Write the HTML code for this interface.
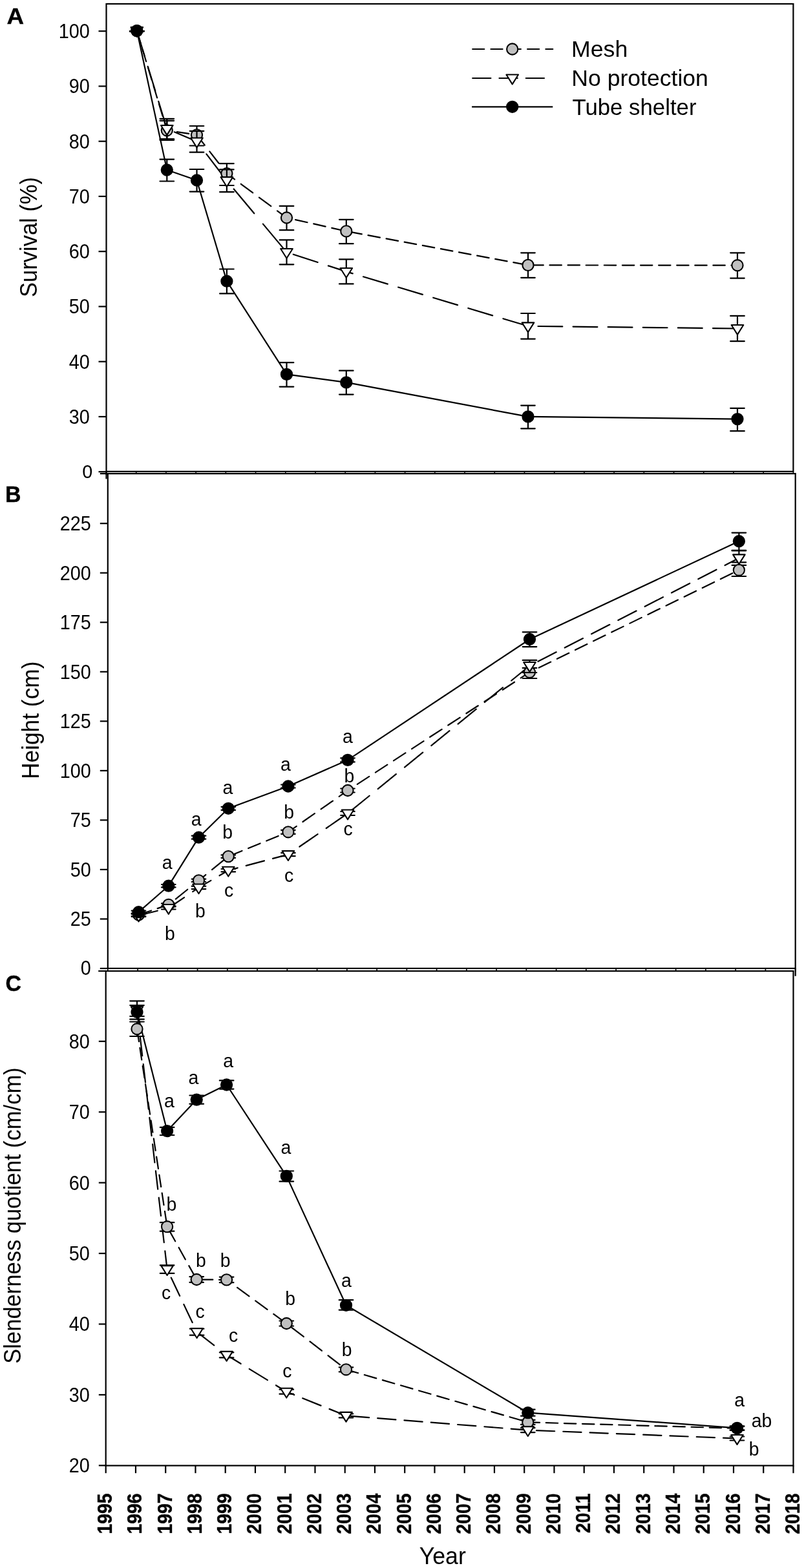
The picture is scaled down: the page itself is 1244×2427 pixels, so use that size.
<!DOCTYPE html>
<html><head><meta charset="utf-8"><title>Figure</title>
<style>html,body{margin:0;padding:0;background:#fff}svg{display:block}</style></head>
<body>
<svg width="1244" height="2427" viewBox="0 0 1244 2427">
<rect width="1244" height="2427" fill="#fff"/>
<line x1="164.50" y1="729.80" x2="164.50" y2="741.30" stroke="#000" stroke-width="2.2" />
<rect x="164.5" y="6.0" width="1062.90" height="723.80" fill="#fff" stroke="#000" stroke-width="2.2"/>
<line x1="164.50" y1="729.80" x2="164.50" y2="734.80" stroke="#000" stroke-width="1.6" />
<line x1="210.71" y1="729.80" x2="210.71" y2="734.80" stroke="#000" stroke-width="1.6" />
<line x1="256.93" y1="729.80" x2="256.93" y2="734.80" stroke="#000" stroke-width="1.6" />
<line x1="303.14" y1="729.80" x2="303.14" y2="734.80" stroke="#000" stroke-width="1.6" />
<line x1="349.35" y1="729.80" x2="349.35" y2="734.80" stroke="#000" stroke-width="1.6" />
<line x1="395.57" y1="729.80" x2="395.57" y2="734.80" stroke="#000" stroke-width="1.6" />
<line x1="441.78" y1="729.80" x2="441.78" y2="734.80" stroke="#000" stroke-width="1.6" />
<line x1="487.99" y1="729.80" x2="487.99" y2="734.80" stroke="#000" stroke-width="1.6" />
<line x1="534.20" y1="729.80" x2="534.20" y2="734.80" stroke="#000" stroke-width="1.6" />
<line x1="580.42" y1="729.80" x2="580.42" y2="734.80" stroke="#000" stroke-width="1.6" />
<line x1="626.63" y1="729.80" x2="626.63" y2="734.80" stroke="#000" stroke-width="1.6" />
<line x1="672.84" y1="729.80" x2="672.84" y2="734.80" stroke="#000" stroke-width="1.6" />
<line x1="719.06" y1="729.80" x2="719.06" y2="734.80" stroke="#000" stroke-width="1.6" />
<line x1="765.27" y1="729.80" x2="765.27" y2="734.80" stroke="#000" stroke-width="1.6" />
<line x1="811.48" y1="729.80" x2="811.48" y2="734.80" stroke="#000" stroke-width="1.6" />
<line x1="857.70" y1="729.80" x2="857.70" y2="734.80" stroke="#000" stroke-width="1.6" />
<line x1="903.91" y1="729.80" x2="903.91" y2="734.80" stroke="#000" stroke-width="1.6" />
<line x1="950.12" y1="729.80" x2="950.12" y2="734.80" stroke="#000" stroke-width="1.6" />
<line x1="996.33" y1="729.80" x2="996.33" y2="734.80" stroke="#000" stroke-width="1.6" />
<line x1="1042.55" y1="729.80" x2="1042.55" y2="734.80" stroke="#000" stroke-width="1.6" />
<line x1="1088.76" y1="729.80" x2="1088.76" y2="734.80" stroke="#000" stroke-width="1.6" />
<line x1="1134.97" y1="729.80" x2="1134.97" y2="734.80" stroke="#000" stroke-width="1.6" />
<line x1="1181.19" y1="729.80" x2="1181.19" y2="734.80" stroke="#000" stroke-width="1.6" />
<line x1="1227.40" y1="729.80" x2="1227.40" y2="734.80" stroke="#000" stroke-width="1.6" />
<rect x="166.8" y="733.1" width="1063.90" height="765.80" fill="#fff" stroke="#000" stroke-width="2.2"/>
<line x1="1230.70" y1="1498.90" x2="1230.70" y2="1510.80" stroke="#000" stroke-width="2.2" />
<line x1="166.80" y1="1498.90" x2="166.80" y2="1503.90" stroke="#000" stroke-width="1.6" />
<line x1="213.06" y1="1498.90" x2="213.06" y2="1503.90" stroke="#000" stroke-width="1.6" />
<line x1="259.31" y1="1498.90" x2="259.31" y2="1503.90" stroke="#000" stroke-width="1.6" />
<line x1="305.57" y1="1498.90" x2="305.57" y2="1503.90" stroke="#000" stroke-width="1.6" />
<line x1="351.83" y1="1498.90" x2="351.83" y2="1503.90" stroke="#000" stroke-width="1.6" />
<line x1="398.08" y1="1498.90" x2="398.08" y2="1503.90" stroke="#000" stroke-width="1.6" />
<line x1="444.34" y1="1498.90" x2="444.34" y2="1503.90" stroke="#000" stroke-width="1.6" />
<line x1="490.60" y1="1498.90" x2="490.60" y2="1503.90" stroke="#000" stroke-width="1.6" />
<line x1="536.85" y1="1498.90" x2="536.85" y2="1503.90" stroke="#000" stroke-width="1.6" />
<line x1="583.11" y1="1498.90" x2="583.11" y2="1503.90" stroke="#000" stroke-width="1.6" />
<line x1="629.37" y1="1498.90" x2="629.37" y2="1503.90" stroke="#000" stroke-width="1.6" />
<line x1="675.62" y1="1498.90" x2="675.62" y2="1503.90" stroke="#000" stroke-width="1.6" />
<line x1="721.88" y1="1498.90" x2="721.88" y2="1503.90" stroke="#000" stroke-width="1.6" />
<line x1="768.13" y1="1498.90" x2="768.13" y2="1503.90" stroke="#000" stroke-width="1.6" />
<line x1="814.39" y1="1498.90" x2="814.39" y2="1503.90" stroke="#000" stroke-width="1.6" />
<line x1="860.65" y1="1498.90" x2="860.65" y2="1503.90" stroke="#000" stroke-width="1.6" />
<line x1="906.90" y1="1498.90" x2="906.90" y2="1503.90" stroke="#000" stroke-width="1.6" />
<line x1="953.16" y1="1498.90" x2="953.16" y2="1503.90" stroke="#000" stroke-width="1.6" />
<line x1="999.42" y1="1498.90" x2="999.42" y2="1503.90" stroke="#000" stroke-width="1.6" />
<line x1="1045.67" y1="1498.90" x2="1045.67" y2="1503.90" stroke="#000" stroke-width="1.6" />
<line x1="1091.93" y1="1498.90" x2="1091.93" y2="1503.90" stroke="#000" stroke-width="1.6" />
<line x1="1138.19" y1="1498.90" x2="1138.19" y2="1503.90" stroke="#000" stroke-width="1.6" />
<line x1="1184.44" y1="1498.90" x2="1184.44" y2="1503.90" stroke="#000" stroke-width="1.6" />
<line x1="1230.70" y1="1498.90" x2="1230.70" y2="1503.90" stroke="#000" stroke-width="1.6" />
<rect x="163.7" y="1503.0" width="1063.80" height="765.50" fill="#fff" stroke="#000" stroke-width="2.2"/>
<line x1="154.80" y1="733.10" x2="166.80" y2="733.10" stroke="#000" stroke-width="2.2" />
<line x1="152.20" y1="1503.00" x2="163.70" y2="1503.00" stroke="#000" stroke-width="2.2" />
<line x1="152.50" y1="48.20" x2="164.50" y2="48.20" stroke="#000" stroke-width="2.2" />
<text transform="translate(138.80 59.10) scale(0.915 1)" font-size="31.5" text-anchor="end" font-weight="normal" font-family="Liberation Sans, Arial, Helvetica, sans-serif" fill="#000"  >100</text>
<line x1="152.50" y1="133.45" x2="164.50" y2="133.45" stroke="#000" stroke-width="2.2" />
<text transform="translate(138.80 144.35) scale(0.915 1)" font-size="31.5" text-anchor="end" font-weight="normal" font-family="Liberation Sans, Arial, Helvetica, sans-serif" fill="#000"  >90</text>
<line x1="152.50" y1="218.70" x2="164.50" y2="218.70" stroke="#000" stroke-width="2.2" />
<text transform="translate(138.80 229.60) scale(0.915 1)" font-size="31.5" text-anchor="end" font-weight="normal" font-family="Liberation Sans, Arial, Helvetica, sans-serif" fill="#000"  >80</text>
<line x1="152.50" y1="303.95" x2="164.50" y2="303.95" stroke="#000" stroke-width="2.2" />
<text transform="translate(138.80 314.85) scale(0.915 1)" font-size="31.5" text-anchor="end" font-weight="normal" font-family="Liberation Sans, Arial, Helvetica, sans-serif" fill="#000"  >70</text>
<line x1="152.50" y1="389.20" x2="164.50" y2="389.20" stroke="#000" stroke-width="2.2" />
<text transform="translate(138.80 400.10) scale(0.915 1)" font-size="31.5" text-anchor="end" font-weight="normal" font-family="Liberation Sans, Arial, Helvetica, sans-serif" fill="#000"  >60</text>
<line x1="152.50" y1="474.45" x2="164.50" y2="474.45" stroke="#000" stroke-width="2.2" />
<text transform="translate(138.80 485.35) scale(0.915 1)" font-size="31.5" text-anchor="end" font-weight="normal" font-family="Liberation Sans, Arial, Helvetica, sans-serif" fill="#000"  >50</text>
<line x1="152.50" y1="559.70" x2="164.50" y2="559.70" stroke="#000" stroke-width="2.2" />
<text transform="translate(138.80 570.60) scale(0.915 1)" font-size="31.5" text-anchor="end" font-weight="normal" font-family="Liberation Sans, Arial, Helvetica, sans-serif" fill="#000"  >40</text>
<line x1="152.50" y1="644.95" x2="164.50" y2="644.95" stroke="#000" stroke-width="2.2" />
<text transform="translate(138.80 655.85) scale(0.915 1)" font-size="31.5" text-anchor="end" font-weight="normal" font-family="Liberation Sans, Arial, Helvetica, sans-serif" fill="#000"  >30</text>
<line x1="152.50" y1="730.20" x2="164.50" y2="730.20" stroke="#000" stroke-width="2.2" />
<text transform="translate(143.20 739.70) scale(0.9512376237623763 1)" font-size="30.3" text-anchor="end" font-weight="normal" font-family="Liberation Sans, Arial, Helvetica, sans-serif" fill="#000"  >0</text>
<line x1="154.80" y1="810.20" x2="166.80" y2="810.20" stroke="#000" stroke-width="2.2" />
<text transform="translate(140.80 821.10) scale(0.915 1)" font-size="31.5" text-anchor="end" font-weight="normal" font-family="Liberation Sans, Arial, Helvetica, sans-serif" fill="#000"  >225</text>
<line x1="154.80" y1="886.73" x2="166.80" y2="886.73" stroke="#000" stroke-width="2.2" />
<text transform="translate(140.80 897.63) scale(0.915 1)" font-size="31.5" text-anchor="end" font-weight="normal" font-family="Liberation Sans, Arial, Helvetica, sans-serif" fill="#000"  >200</text>
<line x1="154.80" y1="963.26" x2="166.80" y2="963.26" stroke="#000" stroke-width="2.2" />
<text transform="translate(140.80 974.16) scale(0.915 1)" font-size="31.5" text-anchor="end" font-weight="normal" font-family="Liberation Sans, Arial, Helvetica, sans-serif" fill="#000"  >175</text>
<line x1="154.80" y1="1039.79" x2="166.80" y2="1039.79" stroke="#000" stroke-width="2.2" />
<text transform="translate(140.80 1050.69) scale(0.915 1)" font-size="31.5" text-anchor="end" font-weight="normal" font-family="Liberation Sans, Arial, Helvetica, sans-serif" fill="#000"  >150</text>
<line x1="154.80" y1="1116.32" x2="166.80" y2="1116.32" stroke="#000" stroke-width="2.2" />
<text transform="translate(140.80 1127.22) scale(0.915 1)" font-size="31.5" text-anchor="end" font-weight="normal" font-family="Liberation Sans, Arial, Helvetica, sans-serif" fill="#000"  >125</text>
<line x1="154.80" y1="1192.85" x2="166.80" y2="1192.85" stroke="#000" stroke-width="2.2" />
<text transform="translate(140.80 1203.75) scale(0.915 1)" font-size="31.5" text-anchor="end" font-weight="normal" font-family="Liberation Sans, Arial, Helvetica, sans-serif" fill="#000"  >100</text>
<line x1="154.80" y1="1269.38" x2="166.80" y2="1269.38" stroke="#000" stroke-width="2.2" />
<text transform="translate(140.80 1280.28) scale(0.915 1)" font-size="31.5" text-anchor="end" font-weight="normal" font-family="Liberation Sans, Arial, Helvetica, sans-serif" fill="#000"  >75</text>
<line x1="154.80" y1="1345.91" x2="166.80" y2="1345.91" stroke="#000" stroke-width="2.2" />
<text transform="translate(140.80 1356.81) scale(0.915 1)" font-size="31.5" text-anchor="end" font-weight="normal" font-family="Liberation Sans, Arial, Helvetica, sans-serif" fill="#000"  >50</text>
<line x1="154.80" y1="1422.44" x2="166.80" y2="1422.44" stroke="#000" stroke-width="2.2" />
<text transform="translate(140.80 1433.34) scale(0.915 1)" font-size="31.5" text-anchor="end" font-weight="normal" font-family="Liberation Sans, Arial, Helvetica, sans-serif" fill="#000"  >25</text>
<line x1="154.80" y1="1498.97" x2="166.80" y2="1498.97" stroke="#000" stroke-width="2.2" />
<text transform="translate(140.80 1508.67) scale(0.915 1)" font-size="31.5" text-anchor="end" font-weight="normal" font-family="Liberation Sans, Arial, Helvetica, sans-serif" fill="#000"  >0</text>
<line x1="152.80" y1="1611.80" x2="163.70" y2="1611.80" stroke="#000" stroke-width="2.2" />
<text transform="translate(138.80 1622.70) scale(0.915 1)" font-size="31.5" text-anchor="end" font-weight="normal" font-family="Liberation Sans, Arial, Helvetica, sans-serif" fill="#000"  >80</text>
<line x1="152.80" y1="1721.22" x2="163.70" y2="1721.22" stroke="#000" stroke-width="2.2" />
<text transform="translate(138.80 1732.12) scale(0.915 1)" font-size="31.5" text-anchor="end" font-weight="normal" font-family="Liberation Sans, Arial, Helvetica, sans-serif" fill="#000"  >70</text>
<line x1="152.80" y1="1830.64" x2="163.70" y2="1830.64" stroke="#000" stroke-width="2.2" />
<text transform="translate(138.80 1841.54) scale(0.915 1)" font-size="31.5" text-anchor="end" font-weight="normal" font-family="Liberation Sans, Arial, Helvetica, sans-serif" fill="#000"  >60</text>
<line x1="152.80" y1="1940.06" x2="163.70" y2="1940.06" stroke="#000" stroke-width="2.2" />
<text transform="translate(138.80 1950.96) scale(0.915 1)" font-size="31.5" text-anchor="end" font-weight="normal" font-family="Liberation Sans, Arial, Helvetica, sans-serif" fill="#000"  >50</text>
<line x1="152.80" y1="2049.48" x2="163.70" y2="2049.48" stroke="#000" stroke-width="2.2" />
<text transform="translate(138.80 2060.38) scale(0.915 1)" font-size="31.5" text-anchor="end" font-weight="normal" font-family="Liberation Sans, Arial, Helvetica, sans-serif" fill="#000"  >40</text>
<line x1="152.80" y1="2158.90" x2="163.70" y2="2158.90" stroke="#000" stroke-width="2.2" />
<text transform="translate(138.80 2169.80) scale(0.915 1)" font-size="31.5" text-anchor="end" font-weight="normal" font-family="Liberation Sans, Arial, Helvetica, sans-serif" fill="#000"  >30</text>
<line x1="152.80" y1="2268.32" x2="163.70" y2="2268.32" stroke="#000" stroke-width="2.2" />
<text transform="translate(138.80 2279.22) scale(0.915 1)" font-size="31.5" text-anchor="end" font-weight="normal" font-family="Liberation Sans, Arial, Helvetica, sans-serif" fill="#000"  >20</text>
<line x1="163.70" y1="2268.50" x2="163.70" y2="2280.20" stroke="#000" stroke-width="2.2" />
<text transform="translate(173.20 2311.50) rotate(-90) scale(0.93 1)" font-size="30.5" text-anchor="end" font-weight="bold" font-family="Liberation Sans, Arial, Helvetica, sans-serif" fill="#000" stroke="#000" stroke-width="0.4" >1995</text>
<line x1="209.95" y1="2268.50" x2="209.95" y2="2280.20" stroke="#000" stroke-width="2.2" />
<text transform="translate(219.45 2311.50) rotate(-90) scale(0.93 1)" font-size="30.5" text-anchor="end" font-weight="bold" font-family="Liberation Sans, Arial, Helvetica, sans-serif" fill="#000" stroke="#000" stroke-width="0.4" >1996</text>
<line x1="256.20" y1="2268.50" x2="256.20" y2="2280.20" stroke="#000" stroke-width="2.2" />
<text transform="translate(265.70 2311.50) rotate(-90) scale(0.93 1)" font-size="30.5" text-anchor="end" font-weight="bold" font-family="Liberation Sans, Arial, Helvetica, sans-serif" fill="#000" stroke="#000" stroke-width="0.4" >1997</text>
<line x1="302.46" y1="2268.50" x2="302.46" y2="2280.20" stroke="#000" stroke-width="2.2" />
<text transform="translate(311.96 2311.50) rotate(-90) scale(0.93 1)" font-size="30.5" text-anchor="end" font-weight="bold" font-family="Liberation Sans, Arial, Helvetica, sans-serif" fill="#000" stroke="#000" stroke-width="0.4" >1998</text>
<line x1="348.71" y1="2268.50" x2="348.71" y2="2280.20" stroke="#000" stroke-width="2.2" />
<text transform="translate(358.21 2311.50) rotate(-90) scale(0.93 1)" font-size="30.5" text-anchor="end" font-weight="bold" font-family="Liberation Sans, Arial, Helvetica, sans-serif" fill="#000" stroke="#000" stroke-width="0.4" >1999</text>
<line x1="394.96" y1="2268.50" x2="394.96" y2="2280.20" stroke="#000" stroke-width="2.2" />
<text transform="translate(404.46 2311.50) rotate(-90) scale(0.93 1)" font-size="30.5" text-anchor="end" font-weight="bold" font-family="Liberation Sans, Arial, Helvetica, sans-serif" fill="#000" stroke="#000" stroke-width="0.4" >2000</text>
<line x1="441.21" y1="2268.50" x2="441.21" y2="2280.20" stroke="#000" stroke-width="2.2" />
<text transform="translate(450.71 2311.50) rotate(-90) scale(0.93 1)" font-size="30.5" text-anchor="end" font-weight="bold" font-family="Liberation Sans, Arial, Helvetica, sans-serif" fill="#000" stroke="#000" stroke-width="0.4" >2001</text>
<line x1="487.47" y1="2268.50" x2="487.47" y2="2280.20" stroke="#000" stroke-width="2.2" />
<text transform="translate(496.97 2311.50) rotate(-90) scale(0.93 1)" font-size="30.5" text-anchor="end" font-weight="bold" font-family="Liberation Sans, Arial, Helvetica, sans-serif" fill="#000" stroke="#000" stroke-width="0.4" >2002</text>
<line x1="533.72" y1="2268.50" x2="533.72" y2="2280.20" stroke="#000" stroke-width="2.2" />
<text transform="translate(543.22 2311.50) rotate(-90) scale(0.93 1)" font-size="30.5" text-anchor="end" font-weight="bold" font-family="Liberation Sans, Arial, Helvetica, sans-serif" fill="#000" stroke="#000" stroke-width="0.4" >2003</text>
<line x1="579.97" y1="2268.50" x2="579.97" y2="2280.20" stroke="#000" stroke-width="2.2" />
<text transform="translate(589.47 2311.50) rotate(-90) scale(0.93 1)" font-size="30.5" text-anchor="end" font-weight="bold" font-family="Liberation Sans, Arial, Helvetica, sans-serif" fill="#000" stroke="#000" stroke-width="0.4" >2004</text>
<line x1="626.22" y1="2268.50" x2="626.22" y2="2280.20" stroke="#000" stroke-width="2.2" />
<text transform="translate(635.72 2311.50) rotate(-90) scale(0.93 1)" font-size="30.5" text-anchor="end" font-weight="bold" font-family="Liberation Sans, Arial, Helvetica, sans-serif" fill="#000" stroke="#000" stroke-width="0.4" >2005</text>
<line x1="672.47" y1="2268.50" x2="672.47" y2="2280.20" stroke="#000" stroke-width="2.2" />
<text transform="translate(681.97 2311.50) rotate(-90) scale(0.93 1)" font-size="30.5" text-anchor="end" font-weight="bold" font-family="Liberation Sans, Arial, Helvetica, sans-serif" fill="#000" stroke="#000" stroke-width="0.4" >2006</text>
<line x1="718.73" y1="2268.50" x2="718.73" y2="2280.20" stroke="#000" stroke-width="2.2" />
<text transform="translate(728.23 2311.50) rotate(-90) scale(0.93 1)" font-size="30.5" text-anchor="end" font-weight="bold" font-family="Liberation Sans, Arial, Helvetica, sans-serif" fill="#000" stroke="#000" stroke-width="0.4" >2007</text>
<line x1="764.98" y1="2268.50" x2="764.98" y2="2280.20" stroke="#000" stroke-width="2.2" />
<text transform="translate(774.48 2311.50) rotate(-90) scale(0.93 1)" font-size="30.5" text-anchor="end" font-weight="bold" font-family="Liberation Sans, Arial, Helvetica, sans-serif" fill="#000" stroke="#000" stroke-width="0.4" >2008</text>
<line x1="811.23" y1="2268.50" x2="811.23" y2="2280.20" stroke="#000" stroke-width="2.2" />
<text transform="translate(820.73 2311.50) rotate(-90) scale(0.93 1)" font-size="30.5" text-anchor="end" font-weight="bold" font-family="Liberation Sans, Arial, Helvetica, sans-serif" fill="#000" stroke="#000" stroke-width="0.4" >2009</text>
<line x1="857.48" y1="2268.50" x2="857.48" y2="2280.20" stroke="#000" stroke-width="2.2" />
<text transform="translate(866.98 2311.50) rotate(-90) scale(0.93 1)" font-size="30.5" text-anchor="end" font-weight="bold" font-family="Liberation Sans, Arial, Helvetica, sans-serif" fill="#000" stroke="#000" stroke-width="0.4" >2010</text>
<line x1="903.73" y1="2268.50" x2="903.73" y2="2280.20" stroke="#000" stroke-width="2.2" />
<text transform="translate(913.23 2311.50) rotate(-90) scale(0.93 1)" font-size="30.5" text-anchor="end" font-weight="bold" font-family="Liberation Sans, Arial, Helvetica, sans-serif" fill="#000" stroke="#000" stroke-width="0.4" >2011</text>
<line x1="949.99" y1="2268.50" x2="949.99" y2="2280.20" stroke="#000" stroke-width="2.2" />
<text transform="translate(959.49 2311.50) rotate(-90) scale(0.93 1)" font-size="30.5" text-anchor="end" font-weight="bold" font-family="Liberation Sans, Arial, Helvetica, sans-serif" fill="#000" stroke="#000" stroke-width="0.4" >2012</text>
<line x1="996.24" y1="2268.50" x2="996.24" y2="2280.20" stroke="#000" stroke-width="2.2" />
<text transform="translate(1005.74 2311.50) rotate(-90) scale(0.93 1)" font-size="30.5" text-anchor="end" font-weight="bold" font-family="Liberation Sans, Arial, Helvetica, sans-serif" fill="#000" stroke="#000" stroke-width="0.4" >2013</text>
<line x1="1042.49" y1="2268.50" x2="1042.49" y2="2280.20" stroke="#000" stroke-width="2.2" />
<text transform="translate(1051.99 2311.50) rotate(-90) scale(0.93 1)" font-size="30.5" text-anchor="end" font-weight="bold" font-family="Liberation Sans, Arial, Helvetica, sans-serif" fill="#000" stroke="#000" stroke-width="0.4" >2014</text>
<line x1="1088.74" y1="2268.50" x2="1088.74" y2="2280.20" stroke="#000" stroke-width="2.2" />
<text transform="translate(1098.24 2311.50) rotate(-90) scale(0.93 1)" font-size="30.5" text-anchor="end" font-weight="bold" font-family="Liberation Sans, Arial, Helvetica, sans-serif" fill="#000" stroke="#000" stroke-width="0.4" >2015</text>
<line x1="1135.00" y1="2268.50" x2="1135.00" y2="2280.20" stroke="#000" stroke-width="2.2" />
<text transform="translate(1144.50 2311.50) rotate(-90) scale(0.93 1)" font-size="30.5" text-anchor="end" font-weight="bold" font-family="Liberation Sans, Arial, Helvetica, sans-serif" fill="#000" stroke="#000" stroke-width="0.4" >2016</text>
<line x1="1181.25" y1="2268.50" x2="1181.25" y2="2280.20" stroke="#000" stroke-width="2.2" />
<text transform="translate(1190.75 2311.50) rotate(-90) scale(0.93 1)" font-size="30.5" text-anchor="end" font-weight="bold" font-family="Liberation Sans, Arial, Helvetica, sans-serif" fill="#000" stroke="#000" stroke-width="0.4" >2017</text>
<line x1="1227.50" y1="2268.50" x2="1227.50" y2="2280.20" stroke="#000" stroke-width="2.2" />
<text transform="translate(1237.00 2311.50) rotate(-90) scale(0.93 1)" font-size="30.5" text-anchor="end" font-weight="bold" font-family="Liberation Sans, Arial, Helvetica, sans-serif" fill="#000" stroke="#000" stroke-width="0.4" >2018</text>
<text transform="translate(684.80 2420.80) scale(0.975 1)" font-size="36.6" text-anchor="middle" font-weight="normal" font-family="Liberation Sans, Arial, Helvetica, sans-serif" fill="#000"  >Year</text>
<text transform="translate(57.20 367.00) rotate(-90) scale(0.943 1)" font-size="36.6" text-anchor="middle" font-weight="normal" font-family="Liberation Sans, Arial, Helvetica, sans-serif" fill="#000"  >Survival (%)</text>
<text transform="translate(60.10 1114.80) rotate(-90) scale(0.966 1)" font-size="36.6" text-anchor="middle" font-weight="normal" font-family="Liberation Sans, Arial, Helvetica, sans-serif" fill="#000"  >Height (cm)</text>
<text transform="translate(32.00 1881.50) rotate(-90) scale(0.943 1)" font-size="36.6" text-anchor="middle" font-weight="normal" font-family="Liberation Sans, Arial, Helvetica, sans-serif" fill="#000"  >Slenderness quotient (cm/cm)</text>
<text transform="translate(10.60 36.50) scale(1.05 1)" font-size="35" text-anchor="start" font-weight="bold" font-family="Liberation Sans, Arial, Helvetica, sans-serif" fill="#000" stroke="#000" stroke-width="0.4" >A</text>
<text transform="translate(7.90 777.20) scale(0.97 1)" font-size="35" text-anchor="start" font-weight="bold" font-family="Liberation Sans, Arial, Helvetica, sans-serif" fill="#000" stroke="#000" stroke-width="0.4" >B</text>
<text transform="translate(8.60 1534.20) scale(0.97 1)" font-size="35" text-anchor="start" font-weight="bold" font-family="Liberation Sans, Arial, Helvetica, sans-serif" fill="#000" stroke="#000" stroke-width="0.4" >C</text>
<line x1="731.20" y1="76.00" x2="855.30" y2="76.00" stroke="#000" stroke-width="2.2" stroke-linecap="round" stroke-dasharray="18.1 10.2"/>
<circle cx="792.70" cy="76.00" r="8.6" fill="#c0c0c0" stroke="#000" stroke-width="2.1"/>
<line x1="731.20" y1="121.00" x2="845.30" y2="121.00" stroke="#000" stroke-width="2.2" stroke-linecap="round" stroke-dasharray="28.2 13.1"/>
<path d="M783.40 115.55L802.00 115.55L792.70 130.35Z" fill="#fff" stroke="#000" stroke-width="2.1" stroke-linejoin="round"/>
<line x1="730.10" y1="165.30" x2="855.30" y2="165.30" stroke="#000" stroke-width="2.2" />
<circle cx="792.70" cy="165.30" r="8.6" fill="#000" stroke="#000" stroke-width="2.1"/>
<text transform="translate(884.00 88.40) scale(1.02 1)" font-size="35" text-anchor="start" font-weight="normal" font-family="Liberation Sans, Arial, Helvetica, sans-serif" fill="#000"  >Mesh</text>
<text transform="translate(884.30 133.40) scale(1.017 1)" font-size="35" text-anchor="start" font-weight="normal" font-family="Liberation Sans, Arial, Helvetica, sans-serif" fill="#000"  >No protection</text>
<text transform="translate(885.50 177.90) scale(0.994 1)" font-size="35" text-anchor="start" font-weight="normal" font-family="Liberation Sans, Arial, Helvetica, sans-serif" fill="#000"  >Tube shelter</text>
<line x1="211.80" y1="47.60" x2="258.30" y2="201.80" stroke="#000" stroke-width="2.2" stroke-linecap="round" stroke-dasharray="19.22 10.13" stroke-dashoffset="-1.15"/>
<line x1="258.30" y1="201.80" x2="304.50" y2="208.80" stroke="#000" stroke-width="2.2" stroke-linecap="round" stroke-dasharray="18.61 9.81" stroke-dashoffset="12.74"/>
<line x1="304.50" y1="208.80" x2="350.90" y2="268.60" stroke="#000" stroke-width="2.2" stroke-linecap="round" stroke-dasharray="23.29 12.28" stroke-dashoffset="3.29"/>
<line x1="350.90" y1="268.60" x2="443.50" y2="337.00" stroke="#000" stroke-width="2.2" stroke-linecap="round" stroke-dasharray="22.88 12.06" stroke-dashoffset="7.71"/>
<line x1="443.50" y1="337.00" x2="535.80" y2="357.90" stroke="#000" stroke-width="2.2" stroke-linecap="round" stroke-dasharray="18.87 9.95" stroke-dashoffset="14.87"/>
<line x1="535.80" y1="357.90" x2="817.00" y2="410.40" stroke="#000" stroke-width="2.2" stroke-linecap="round" stroke-dasharray="18.72 9.87" stroke-dashoffset="22.89"/>
<line x1="817.00" y1="410.40" x2="1141.00" y2="410.70" stroke="#000" stroke-width="2.2" stroke-linecap="round" stroke-dasharray="18.40 9.70" stroke-dashoffset="22.70"/>
<line x1="211.80" y1="47.60" x2="258.30" y2="199.50" stroke="#000" stroke-width="2.2" stroke-linecap="round" stroke-dasharray="39.53 17.05" stroke-dashoffset="-1.15"/>
<line x1="258.30" y1="199.50" x2="304.50" y2="219.00" stroke="#000" stroke-width="2.2" stroke-linecap="round" stroke-dasharray="41.03 17.69" stroke-dashoffset="46.24"/>
<line x1="304.50" y1="219.00" x2="350.90" y2="279.60" stroke="#000" stroke-width="2.2" stroke-linecap="round" stroke-dasharray="47.61 20.53" stroke-dashoffset="43.70"/>
<line x1="350.90" y1="279.60" x2="443.50" y2="390.40" stroke="#000" stroke-width="2.2" stroke-linecap="round" stroke-dasharray="49.26 21.24" stroke-dashoffset="53.69"/>
<line x1="443.50" y1="390.40" x2="535.80" y2="420.40" stroke="#000" stroke-width="2.2" stroke-linecap="round" stroke-dasharray="39.75 17.14" stroke-dashoffset="46.06"/>
<line x1="535.80" y1="420.40" x2="817.00" y2="504.80" stroke="#000" stroke-width="2.2" stroke-linecap="round" stroke-dasharray="39.47 17.02" stroke-dashoffset="29.13"/>
<line x1="817.00" y1="504.80" x2="1141.00" y2="508.50" stroke="#000" stroke-width="2.2" stroke-linecap="round" stroke-dasharray="37.80 16.30" stroke-dashoffset="38.60"/>
<line x1="211.80" y1="47.60" x2="258.30" y2="263.00" stroke="#000" stroke-width="2.2" />
<line x1="258.30" y1="263.00" x2="304.50" y2="279.00" stroke="#000" stroke-width="2.2" />
<line x1="304.50" y1="279.00" x2="350.90" y2="435.20" stroke="#000" stroke-width="2.2" />
<line x1="350.90" y1="435.20" x2="443.50" y2="579.40" stroke="#000" stroke-width="2.2" />
<line x1="443.50" y1="579.40" x2="535.80" y2="591.90" stroke="#000" stroke-width="2.2" />
<line x1="535.80" y1="591.90" x2="817.00" y2="644.90" stroke="#000" stroke-width="2.2" />
<line x1="817.00" y1="644.90" x2="1141.00" y2="648.60" stroke="#000" stroke-width="2.2" />
<line x1="211.80" y1="48.30" x2="211.80" y2="48.30" stroke="#000" stroke-width="2.2" />
<line x1="201.00" y1="48.30" x2="222.60" y2="48.30" stroke="#000" stroke-width="2.2" stroke-linecap="round"/>
<line x1="201.00" y1="48.30" x2="222.60" y2="48.30" stroke="#000" stroke-width="2.2" stroke-linecap="round"/>
<circle cx="211.80" cy="47.60" r="8.6" fill="#c0c0c0" stroke="#000" stroke-width="2.1"/>
<line x1="258.30" y1="186.80" x2="258.30" y2="216.80" stroke="#000" stroke-width="2.2" />
<line x1="247.50" y1="186.80" x2="269.10" y2="186.80" stroke="#000" stroke-width="2.2" stroke-linecap="round"/>
<line x1="247.50" y1="216.80" x2="269.10" y2="216.80" stroke="#000" stroke-width="2.2" stroke-linecap="round"/>
<circle cx="258.30" cy="201.80" r="8.6" fill="#c0c0c0" stroke="#000" stroke-width="2.1"/>
<line x1="304.50" y1="195.00" x2="304.50" y2="225.50" stroke="#000" stroke-width="2.2" />
<line x1="293.70" y1="195.00" x2="315.30" y2="195.00" stroke="#000" stroke-width="2.2" stroke-linecap="round"/>
<line x1="293.70" y1="225.50" x2="315.30" y2="225.50" stroke="#000" stroke-width="2.2" stroke-linecap="round"/>
<circle cx="304.50" cy="208.80" r="8.6" fill="#c0c0c0" stroke="#000" stroke-width="2.1"/>
<line x1="350.90" y1="253.20" x2="350.90" y2="287.00" stroke="#000" stroke-width="2.2" />
<line x1="340.10" y1="253.20" x2="361.70" y2="253.20" stroke="#000" stroke-width="2.2" stroke-linecap="round"/>
<line x1="340.10" y1="287.00" x2="361.70" y2="287.00" stroke="#000" stroke-width="2.2" stroke-linecap="round"/>
<circle cx="350.90" cy="268.60" r="8.6" fill="#c0c0c0" stroke="#000" stroke-width="2.1"/>
<line x1="443.50" y1="318.90" x2="443.50" y2="356.20" stroke="#000" stroke-width="2.2" />
<line x1="432.70" y1="318.90" x2="454.30" y2="318.90" stroke="#000" stroke-width="2.2" stroke-linecap="round"/>
<line x1="432.70" y1="356.20" x2="454.30" y2="356.20" stroke="#000" stroke-width="2.2" stroke-linecap="round"/>
<circle cx="443.50" cy="337.00" r="8.6" fill="#c0c0c0" stroke="#000" stroke-width="2.1"/>
<line x1="535.80" y1="339.80" x2="535.80" y2="377.20" stroke="#000" stroke-width="2.2" />
<line x1="525.00" y1="339.80" x2="546.60" y2="339.80" stroke="#000" stroke-width="2.2" stroke-linecap="round"/>
<line x1="525.00" y1="377.20" x2="546.60" y2="377.20" stroke="#000" stroke-width="2.2" stroke-linecap="round"/>
<circle cx="535.80" cy="357.90" r="8.6" fill="#c0c0c0" stroke="#000" stroke-width="2.1"/>
<line x1="817.00" y1="391.30" x2="817.00" y2="429.80" stroke="#000" stroke-width="2.2" />
<line x1="806.20" y1="391.30" x2="827.80" y2="391.30" stroke="#000" stroke-width="2.2" stroke-linecap="round"/>
<line x1="806.20" y1="429.80" x2="827.80" y2="429.80" stroke="#000" stroke-width="2.2" stroke-linecap="round"/>
<circle cx="817.00" cy="410.40" r="8.6" fill="#c0c0c0" stroke="#000" stroke-width="2.1"/>
<line x1="1141.00" y1="391.30" x2="1141.00" y2="430.60" stroke="#000" stroke-width="2.2" />
<line x1="1130.20" y1="391.30" x2="1151.80" y2="391.30" stroke="#000" stroke-width="2.2" stroke-linecap="round"/>
<line x1="1130.20" y1="430.60" x2="1151.80" y2="430.60" stroke="#000" stroke-width="2.2" stroke-linecap="round"/>
<circle cx="1141.00" cy="410.70" r="8.6" fill="#c0c0c0" stroke="#000" stroke-width="2.1"/>
<line x1="211.80" y1="48.30" x2="211.80" y2="48.30" stroke="#000" stroke-width="2.2" />
<line x1="201.00" y1="48.30" x2="222.60" y2="48.30" stroke="#000" stroke-width="2.2" stroke-linecap="round"/>
<line x1="201.00" y1="48.30" x2="222.60" y2="48.30" stroke="#000" stroke-width="2.2" stroke-linecap="round"/>
<path d="M202.50 42.15L221.10 42.15L211.80 56.95Z" fill="#fff" stroke="#000" stroke-width="2.1" stroke-linejoin="round"/>
<line x1="258.30" y1="183.80" x2="258.30" y2="215.20" stroke="#000" stroke-width="2.2" />
<line x1="247.50" y1="183.80" x2="269.10" y2="183.80" stroke="#000" stroke-width="2.2" stroke-linecap="round"/>
<line x1="247.50" y1="215.20" x2="269.10" y2="215.20" stroke="#000" stroke-width="2.2" stroke-linecap="round"/>
<path d="M249.00 194.05L267.60 194.05L258.30 208.85Z" fill="#fff" stroke="#000" stroke-width="2.1" stroke-linejoin="round"/>
<line x1="304.50" y1="202.80" x2="304.50" y2="235.70" stroke="#000" stroke-width="2.2" />
<line x1="293.70" y1="202.80" x2="315.30" y2="202.80" stroke="#000" stroke-width="2.2" stroke-linecap="round"/>
<line x1="293.70" y1="235.70" x2="315.30" y2="235.70" stroke="#000" stroke-width="2.2" stroke-linecap="round"/>
<path d="M295.20 213.55L313.80 213.55L304.50 228.35Z" fill="#fff" stroke="#000" stroke-width="2.1" stroke-linejoin="round"/>
<line x1="350.90" y1="262.30" x2="350.90" y2="297.20" stroke="#000" stroke-width="2.2" />
<line x1="340.10" y1="262.30" x2="361.70" y2="262.30" stroke="#000" stroke-width="2.2" stroke-linecap="round"/>
<line x1="340.10" y1="297.20" x2="361.70" y2="297.20" stroke="#000" stroke-width="2.2" stroke-linecap="round"/>
<path d="M341.60 274.15L360.20 274.15L350.90 288.95Z" fill="#fff" stroke="#000" stroke-width="2.1" stroke-linejoin="round"/>
<line x1="443.50" y1="371.40" x2="443.50" y2="409.30" stroke="#000" stroke-width="2.2" />
<line x1="432.70" y1="371.40" x2="454.30" y2="371.40" stroke="#000" stroke-width="2.2" stroke-linecap="round"/>
<line x1="432.70" y1="409.30" x2="454.30" y2="409.30" stroke="#000" stroke-width="2.2" stroke-linecap="round"/>
<path d="M434.20 384.95L452.80 384.95L443.50 399.75Z" fill="#fff" stroke="#000" stroke-width="2.1" stroke-linejoin="round"/>
<line x1="535.80" y1="401.30" x2="535.80" y2="439.40" stroke="#000" stroke-width="2.2" />
<line x1="525.00" y1="401.30" x2="546.60" y2="401.30" stroke="#000" stroke-width="2.2" stroke-linecap="round"/>
<line x1="525.00" y1="439.40" x2="546.60" y2="439.40" stroke="#000" stroke-width="2.2" stroke-linecap="round"/>
<path d="M526.50 414.95L545.10 414.95L535.80 429.75Z" fill="#fff" stroke="#000" stroke-width="2.1" stroke-linejoin="round"/>
<line x1="817.00" y1="485.00" x2="817.00" y2="524.60" stroke="#000" stroke-width="2.2" />
<line x1="806.20" y1="485.00" x2="827.80" y2="485.00" stroke="#000" stroke-width="2.2" stroke-linecap="round"/>
<line x1="806.20" y1="524.60" x2="827.80" y2="524.60" stroke="#000" stroke-width="2.2" stroke-linecap="round"/>
<path d="M807.70 499.35L826.30 499.35L817.00 514.15Z" fill="#fff" stroke="#000" stroke-width="2.1" stroke-linejoin="round"/>
<line x1="1141.00" y1="488.90" x2="1141.00" y2="528.20" stroke="#000" stroke-width="2.2" />
<line x1="1130.20" y1="488.90" x2="1151.80" y2="488.90" stroke="#000" stroke-width="2.2" stroke-linecap="round"/>
<line x1="1130.20" y1="528.20" x2="1151.80" y2="528.20" stroke="#000" stroke-width="2.2" stroke-linecap="round"/>
<path d="M1131.70 503.05L1150.30 503.05L1141.00 517.85Z" fill="#fff" stroke="#000" stroke-width="2.1" stroke-linejoin="round"/>
<line x1="211.80" y1="48.30" x2="211.80" y2="48.30" stroke="#000" stroke-width="2.2" />
<line x1="201.00" y1="48.30" x2="222.60" y2="48.30" stroke="#000" stroke-width="2.2" stroke-linecap="round"/>
<line x1="201.00" y1="48.30" x2="222.60" y2="48.30" stroke="#000" stroke-width="2.2" stroke-linecap="round"/>
<circle cx="211.80" cy="47.60" r="8.6" fill="#000" stroke="#000" stroke-width="2.1"/>
<line x1="258.30" y1="246.60" x2="258.30" y2="280.50" stroke="#000" stroke-width="2.2" />
<line x1="247.50" y1="246.60" x2="269.10" y2="246.60" stroke="#000" stroke-width="2.2" stroke-linecap="round"/>
<line x1="247.50" y1="280.50" x2="269.10" y2="280.50" stroke="#000" stroke-width="2.2" stroke-linecap="round"/>
<circle cx="258.30" cy="263.00" r="8.6" fill="#000" stroke="#000" stroke-width="2.1"/>
<line x1="304.50" y1="262.00" x2="304.50" y2="296.60" stroke="#000" stroke-width="2.2" />
<line x1="293.70" y1="262.00" x2="315.30" y2="262.00" stroke="#000" stroke-width="2.2" stroke-linecap="round"/>
<line x1="293.70" y1="296.60" x2="315.30" y2="296.60" stroke="#000" stroke-width="2.2" stroke-linecap="round"/>
<circle cx="304.50" cy="279.00" r="8.6" fill="#000" stroke="#000" stroke-width="2.1"/>
<line x1="350.90" y1="416.50" x2="350.90" y2="454.40" stroke="#000" stroke-width="2.2" />
<line x1="340.10" y1="416.50" x2="361.70" y2="416.50" stroke="#000" stroke-width="2.2" stroke-linecap="round"/>
<line x1="340.10" y1="454.40" x2="361.70" y2="454.40" stroke="#000" stroke-width="2.2" stroke-linecap="round"/>
<circle cx="350.90" cy="435.20" r="8.6" fill="#000" stroke="#000" stroke-width="2.1"/>
<line x1="443.50" y1="561.20" x2="443.50" y2="598.60" stroke="#000" stroke-width="2.2" />
<line x1="432.70" y1="561.20" x2="454.30" y2="561.20" stroke="#000" stroke-width="2.2" stroke-linecap="round"/>
<line x1="432.70" y1="598.60" x2="454.30" y2="598.60" stroke="#000" stroke-width="2.2" stroke-linecap="round"/>
<circle cx="443.50" cy="579.40" r="8.6" fill="#000" stroke="#000" stroke-width="2.1"/>
<line x1="535.80" y1="573.70" x2="535.80" y2="610.60" stroke="#000" stroke-width="2.2" />
<line x1="525.00" y1="573.70" x2="546.60" y2="573.70" stroke="#000" stroke-width="2.2" stroke-linecap="round"/>
<line x1="525.00" y1="610.60" x2="546.60" y2="610.60" stroke="#000" stroke-width="2.2" stroke-linecap="round"/>
<circle cx="535.80" cy="591.90" r="8.6" fill="#000" stroke="#000" stroke-width="2.1"/>
<line x1="817.00" y1="627.60" x2="817.00" y2="663.30" stroke="#000" stroke-width="2.2" />
<line x1="806.20" y1="627.60" x2="827.80" y2="627.60" stroke="#000" stroke-width="2.2" stroke-linecap="round"/>
<line x1="806.20" y1="663.30" x2="827.80" y2="663.30" stroke="#000" stroke-width="2.2" stroke-linecap="round"/>
<circle cx="817.00" cy="644.90" r="8.6" fill="#000" stroke="#000" stroke-width="2.1"/>
<line x1="1141.00" y1="631.80" x2="1141.00" y2="667.20" stroke="#000" stroke-width="2.2" />
<line x1="1130.20" y1="631.80" x2="1151.80" y2="631.80" stroke="#000" stroke-width="2.2" stroke-linecap="round"/>
<line x1="1130.20" y1="667.20" x2="1151.80" y2="667.20" stroke="#000" stroke-width="2.2" stroke-linecap="round"/>
<circle cx="1141.00" cy="648.60" r="8.6" fill="#000" stroke="#000" stroke-width="2.1"/>
<line x1="214.50" y1="1416.00" x2="260.80" y2="1400.40" stroke="#000" stroke-width="2.2" stroke-linecap="round" stroke-dasharray="19.42 10.24" stroke-dashoffset="-1.16"/>
<line x1="260.80" y1="1400.40" x2="307.50" y2="1362.80" stroke="#000" stroke-width="2.2" stroke-linecap="round" stroke-dasharray="23.62 12.45" stroke-dashoffset="21.95"/>
<line x1="307.50" y1="1362.80" x2="353.30" y2="1325.60" stroke="#000" stroke-width="2.2" stroke-linecap="round" stroke-dasharray="23.70 12.50" stroke-dashoffset="9.79"/>
<line x1="353.30" y1="1325.60" x2="445.90" y2="1287.80" stroke="#000" stroke-width="2.2" stroke-linecap="round" stroke-dasharray="19.87 10.48" stroke-dashoffset="27.33"/>
<line x1="445.90" y1="1287.80" x2="538.00" y2="1223.50" stroke="#000" stroke-width="2.2" stroke-linecap="round" stroke-dasharray="22.44 11.83" stroke-dashoffset="6.71"/>
<line x1="538.00" y1="1223.50" x2="819.50" y2="1040.50" stroke="#000" stroke-width="2.2" stroke-linecap="round" stroke-dasharray="21.95 11.57" stroke-dashoffset="15.86"/>
<line x1="819.50" y1="1040.50" x2="1143.40" y2="882.30" stroke="#000" stroke-width="2.2" stroke-linecap="round" stroke-dasharray="20.48 10.80" stroke-dashoffset="15.36"/>
<line x1="214.50" y1="1417.00" x2="260.80" y2="1405.50" stroke="#000" stroke-width="2.2" stroke-linecap="round" stroke-dasharray="29.06 13.50" stroke-dashoffset="-1.13"/>
<line x1="260.80" y1="1405.50" x2="307.50" y2="1373.90" stroke="#000" stroke-width="2.2" stroke-linecap="round" stroke-dasharray="34.05 15.82" stroke-dashoffset="4.71"/>
<line x1="307.50" y1="1373.90" x2="353.30" y2="1347.20" stroke="#000" stroke-width="2.2" stroke-linecap="round" stroke-dasharray="32.64 15.16" stroke-dashoffset="10.76"/>
<line x1="353.30" y1="1347.20" x2="445.90" y2="1322.60" stroke="#000" stroke-width="2.2" stroke-linecap="round" stroke-dasharray="29.18 13.55" stroke-dashoffset="14.28"/>
<line x1="445.90" y1="1322.60" x2="538.00" y2="1259.00" stroke="#000" stroke-width="2.2" stroke-linecap="round" stroke-dasharray="34.27 15.92" stroke-dashoffset="28.92"/>
<line x1="538.00" y1="1259.00" x2="819.50" y2="1030.50" stroke="#000" stroke-width="2.2" stroke-linecap="round" stroke-dasharray="36.32 16.87" stroke-dashoffset="46.24"/>
<line x1="819.50" y1="1030.50" x2="1143.40" y2="863.80" stroke="#000" stroke-width="2.2" stroke-linecap="round" stroke-dasharray="31.72 14.73" stroke-dashoffset="31.83"/>
<line x1="214.50" y1="1411.70" x2="260.80" y2="1371.20" stroke="#000" stroke-width="2.2" />
<line x1="260.80" y1="1371.20" x2="307.50" y2="1296.20" stroke="#000" stroke-width="2.2" />
<line x1="307.50" y1="1296.20" x2="353.30" y2="1251.30" stroke="#000" stroke-width="2.2" />
<line x1="353.30" y1="1251.30" x2="445.90" y2="1217.00" stroke="#000" stroke-width="2.2" />
<line x1="445.90" y1="1217.00" x2="538.00" y2="1176.40" stroke="#000" stroke-width="2.2" />
<line x1="538.00" y1="1176.40" x2="819.50" y2="989.50" stroke="#000" stroke-width="2.2" />
<line x1="819.50" y1="989.50" x2="1143.40" y2="837.70" stroke="#000" stroke-width="2.2" />
<line x1="214.50" y1="1414.00" x2="214.50" y2="1418.00" stroke="#000" stroke-width="2.2" />
<line x1="203.70" y1="1414.00" x2="225.30" y2="1414.00" stroke="#000" stroke-width="2.2" stroke-linecap="round"/>
<line x1="203.70" y1="1418.00" x2="225.30" y2="1418.00" stroke="#000" stroke-width="2.2" stroke-linecap="round"/>
<circle cx="214.50" cy="1416.00" r="8.6" fill="#c0c0c0" stroke="#000" stroke-width="2.1"/>
<line x1="260.80" y1="1398.40" x2="260.80" y2="1402.40" stroke="#000" stroke-width="2.2" />
<line x1="250.00" y1="1398.40" x2="271.60" y2="1398.40" stroke="#000" stroke-width="2.2" stroke-linecap="round"/>
<line x1="250.00" y1="1402.40" x2="271.60" y2="1402.40" stroke="#000" stroke-width="2.2" stroke-linecap="round"/>
<circle cx="260.80" cy="1400.40" r="8.6" fill="#c0c0c0" stroke="#000" stroke-width="2.1"/>
<line x1="307.50" y1="1360.60" x2="307.50" y2="1365.00" stroke="#000" stroke-width="2.2" />
<line x1="296.70" y1="1360.60" x2="318.30" y2="1360.60" stroke="#000" stroke-width="2.2" stroke-linecap="round"/>
<line x1="296.70" y1="1365.00" x2="318.30" y2="1365.00" stroke="#000" stroke-width="2.2" stroke-linecap="round"/>
<circle cx="307.50" cy="1362.80" r="8.6" fill="#c0c0c0" stroke="#000" stroke-width="2.1"/>
<line x1="353.30" y1="1323.40" x2="353.30" y2="1327.80" stroke="#000" stroke-width="2.2" />
<line x1="342.50" y1="1323.40" x2="364.10" y2="1323.40" stroke="#000" stroke-width="2.2" stroke-linecap="round"/>
<line x1="342.50" y1="1327.80" x2="364.10" y2="1327.80" stroke="#000" stroke-width="2.2" stroke-linecap="round"/>
<circle cx="353.30" cy="1325.60" r="8.6" fill="#c0c0c0" stroke="#000" stroke-width="2.1"/>
<line x1="445.90" y1="1284.80" x2="445.90" y2="1290.80" stroke="#000" stroke-width="2.2" />
<line x1="435.10" y1="1284.80" x2="456.70" y2="1284.80" stroke="#000" stroke-width="2.2" stroke-linecap="round"/>
<line x1="435.10" y1="1290.80" x2="456.70" y2="1290.80" stroke="#000" stroke-width="2.2" stroke-linecap="round"/>
<circle cx="445.90" cy="1287.80" r="8.6" fill="#c0c0c0" stroke="#000" stroke-width="2.1"/>
<line x1="538.00" y1="1220.50" x2="538.00" y2="1226.50" stroke="#000" stroke-width="2.2" />
<line x1="527.20" y1="1220.50" x2="548.80" y2="1220.50" stroke="#000" stroke-width="2.2" stroke-linecap="round"/>
<line x1="527.20" y1="1226.50" x2="548.80" y2="1226.50" stroke="#000" stroke-width="2.2" stroke-linecap="round"/>
<circle cx="538.00" cy="1223.50" r="8.6" fill="#c0c0c0" stroke="#000" stroke-width="2.1"/>
<line x1="819.50" y1="1033.90" x2="819.50" y2="1050.00" stroke="#000" stroke-width="2.2" />
<line x1="808.70" y1="1033.90" x2="830.30" y2="1033.90" stroke="#000" stroke-width="2.2" stroke-linecap="round"/>
<line x1="808.70" y1="1050.00" x2="830.30" y2="1050.00" stroke="#000" stroke-width="2.2" stroke-linecap="round"/>
<circle cx="819.50" cy="1040.50" r="8.6" fill="#c0c0c0" stroke="#000" stroke-width="2.1"/>
<line x1="1143.40" y1="874.90" x2="1143.40" y2="892.00" stroke="#000" stroke-width="2.2" />
<line x1="1132.60" y1="874.90" x2="1154.20" y2="874.90" stroke="#000" stroke-width="2.2" stroke-linecap="round"/>
<line x1="1132.60" y1="892.00" x2="1154.20" y2="892.00" stroke="#000" stroke-width="2.2" stroke-linecap="round"/>
<circle cx="1143.40" cy="882.30" r="8.6" fill="#c0c0c0" stroke="#000" stroke-width="2.1"/>
<line x1="214.50" y1="1415.00" x2="214.50" y2="1419.00" stroke="#000" stroke-width="2.2" />
<line x1="203.70" y1="1415.00" x2="225.30" y2="1415.00" stroke="#000" stroke-width="2.2" stroke-linecap="round"/>
<line x1="203.70" y1="1419.00" x2="225.30" y2="1419.00" stroke="#000" stroke-width="2.2" stroke-linecap="round"/>
<path d="M205.20 1411.55L223.80 1411.55L214.50 1426.35Z" fill="#fff" stroke="#000" stroke-width="2.1" stroke-linejoin="round"/>
<line x1="260.80" y1="1403.50" x2="260.80" y2="1407.50" stroke="#000" stroke-width="2.2" />
<line x1="250.00" y1="1403.50" x2="271.60" y2="1403.50" stroke="#000" stroke-width="2.2" stroke-linecap="round"/>
<line x1="250.00" y1="1407.50" x2="271.60" y2="1407.50" stroke="#000" stroke-width="2.2" stroke-linecap="round"/>
<path d="M251.50 1400.05L270.10 1400.05L260.80 1414.85Z" fill="#fff" stroke="#000" stroke-width="2.1" stroke-linejoin="round"/>
<line x1="307.50" y1="1371.70" x2="307.50" y2="1376.10" stroke="#000" stroke-width="2.2" />
<line x1="296.70" y1="1371.70" x2="318.30" y2="1371.70" stroke="#000" stroke-width="2.2" stroke-linecap="round"/>
<line x1="296.70" y1="1376.10" x2="318.30" y2="1376.10" stroke="#000" stroke-width="2.2" stroke-linecap="round"/>
<path d="M298.20 1368.45L316.80 1368.45L307.50 1383.25Z" fill="#fff" stroke="#000" stroke-width="2.1" stroke-linejoin="round"/>
<line x1="353.30" y1="1345.00" x2="353.30" y2="1349.40" stroke="#000" stroke-width="2.2" />
<line x1="342.50" y1="1345.00" x2="364.10" y2="1345.00" stroke="#000" stroke-width="2.2" stroke-linecap="round"/>
<line x1="342.50" y1="1349.40" x2="364.10" y2="1349.40" stroke="#000" stroke-width="2.2" stroke-linecap="round"/>
<path d="M344.00 1341.75L362.60 1341.75L353.30 1356.55Z" fill="#fff" stroke="#000" stroke-width="2.1" stroke-linejoin="round"/>
<line x1="445.90" y1="1320.10" x2="445.90" y2="1325.10" stroke="#000" stroke-width="2.2" />
<line x1="435.10" y1="1320.10" x2="456.70" y2="1320.10" stroke="#000" stroke-width="2.2" stroke-linecap="round"/>
<line x1="435.10" y1="1325.10" x2="456.70" y2="1325.10" stroke="#000" stroke-width="2.2" stroke-linecap="round"/>
<path d="M436.60 1317.15L455.20 1317.15L445.90 1331.95Z" fill="#fff" stroke="#000" stroke-width="2.1" stroke-linejoin="round"/>
<line x1="538.00" y1="1256.00" x2="538.00" y2="1262.00" stroke="#000" stroke-width="2.2" />
<line x1="527.20" y1="1256.00" x2="548.80" y2="1256.00" stroke="#000" stroke-width="2.2" stroke-linecap="round"/>
<line x1="527.20" y1="1262.00" x2="548.80" y2="1262.00" stroke="#000" stroke-width="2.2" stroke-linecap="round"/>
<path d="M528.70 1253.55L547.30 1253.55L538.00 1268.35Z" fill="#fff" stroke="#000" stroke-width="2.1" stroke-linejoin="round"/>
<line x1="819.50" y1="1021.90" x2="819.50" y2="1041.00" stroke="#000" stroke-width="2.2" />
<line x1="808.70" y1="1021.90" x2="830.30" y2="1021.90" stroke="#000" stroke-width="2.2" stroke-linecap="round"/>
<line x1="808.70" y1="1041.00" x2="830.30" y2="1041.00" stroke="#000" stroke-width="2.2" stroke-linecap="round"/>
<path d="M810.20 1025.05L828.80 1025.05L819.50 1039.85Z" fill="#fff" stroke="#000" stroke-width="2.1" stroke-linejoin="round"/>
<line x1="1143.40" y1="852.50" x2="1143.40" y2="870.40" stroke="#000" stroke-width="2.2" />
<line x1="1132.60" y1="852.50" x2="1154.20" y2="852.50" stroke="#000" stroke-width="2.2" stroke-linecap="round"/>
<line x1="1132.60" y1="870.40" x2="1154.20" y2="870.40" stroke="#000" stroke-width="2.2" stroke-linecap="round"/>
<path d="M1134.10 858.35L1152.70 858.35L1143.40 873.15Z" fill="#fff" stroke="#000" stroke-width="2.1" stroke-linejoin="round"/>
<line x1="214.50" y1="1409.70" x2="214.50" y2="1413.70" stroke="#000" stroke-width="2.2" />
<line x1="203.70" y1="1409.70" x2="225.30" y2="1409.70" stroke="#000" stroke-width="2.2" stroke-linecap="round"/>
<line x1="203.70" y1="1413.70" x2="225.30" y2="1413.70" stroke="#000" stroke-width="2.2" stroke-linecap="round"/>
<circle cx="214.50" cy="1411.70" r="8.6" fill="#000" stroke="#000" stroke-width="2.1"/>
<line x1="260.80" y1="1369.00" x2="260.80" y2="1373.40" stroke="#000" stroke-width="2.2" />
<line x1="250.00" y1="1369.00" x2="271.60" y2="1369.00" stroke="#000" stroke-width="2.2" stroke-linecap="round"/>
<line x1="250.00" y1="1373.40" x2="271.60" y2="1373.40" stroke="#000" stroke-width="2.2" stroke-linecap="round"/>
<circle cx="260.80" cy="1371.20" r="8.6" fill="#000" stroke="#000" stroke-width="2.1"/>
<line x1="307.50" y1="1293.70" x2="307.50" y2="1298.70" stroke="#000" stroke-width="2.2" />
<line x1="296.70" y1="1293.70" x2="318.30" y2="1293.70" stroke="#000" stroke-width="2.2" stroke-linecap="round"/>
<line x1="296.70" y1="1298.70" x2="318.30" y2="1298.70" stroke="#000" stroke-width="2.2" stroke-linecap="round"/>
<circle cx="307.50" cy="1296.20" r="8.6" fill="#000" stroke="#000" stroke-width="2.1"/>
<line x1="353.30" y1="1248.80" x2="353.30" y2="1253.80" stroke="#000" stroke-width="2.2" />
<line x1="342.50" y1="1248.80" x2="364.10" y2="1248.80" stroke="#000" stroke-width="2.2" stroke-linecap="round"/>
<line x1="342.50" y1="1253.80" x2="364.10" y2="1253.80" stroke="#000" stroke-width="2.2" stroke-linecap="round"/>
<circle cx="353.30" cy="1251.30" r="8.6" fill="#000" stroke="#000" stroke-width="2.1"/>
<line x1="445.90" y1="1214.50" x2="445.90" y2="1219.50" stroke="#000" stroke-width="2.2" />
<line x1="435.10" y1="1214.50" x2="456.70" y2="1214.50" stroke="#000" stroke-width="2.2" stroke-linecap="round"/>
<line x1="435.10" y1="1219.50" x2="456.70" y2="1219.50" stroke="#000" stroke-width="2.2" stroke-linecap="round"/>
<circle cx="445.90" cy="1217.00" r="8.6" fill="#000" stroke="#000" stroke-width="2.1"/>
<line x1="538.00" y1="1173.40" x2="538.00" y2="1179.40" stroke="#000" stroke-width="2.2" />
<line x1="527.20" y1="1173.40" x2="548.80" y2="1173.40" stroke="#000" stroke-width="2.2" stroke-linecap="round"/>
<line x1="527.20" y1="1179.40" x2="548.80" y2="1179.40" stroke="#000" stroke-width="2.2" stroke-linecap="round"/>
<circle cx="538.00" cy="1176.40" r="8.6" fill="#000" stroke="#000" stroke-width="2.1"/>
<line x1="819.50" y1="978.30" x2="819.50" y2="1001.10" stroke="#000" stroke-width="2.2" />
<line x1="808.70" y1="978.30" x2="830.30" y2="978.30" stroke="#000" stroke-width="2.2" stroke-linecap="round"/>
<line x1="808.70" y1="1001.10" x2="830.30" y2="1001.10" stroke="#000" stroke-width="2.2" stroke-linecap="round"/>
<circle cx="819.50" cy="989.50" r="8.6" fill="#000" stroke="#000" stroke-width="2.1"/>
<line x1="1143.40" y1="824.60" x2="1143.40" y2="851.80" stroke="#000" stroke-width="2.2" />
<line x1="1132.60" y1="824.60" x2="1154.20" y2="824.60" stroke="#000" stroke-width="2.2" stroke-linecap="round"/>
<line x1="1132.60" y1="851.80" x2="1154.20" y2="851.80" stroke="#000" stroke-width="2.2" stroke-linecap="round"/>
<circle cx="1143.40" cy="837.70" r="8.6" fill="#000" stroke="#000" stroke-width="2.1"/>
<text transform="translate(258.70 1345.00) scale(0.98 1)" font-size="29" text-anchor="middle" font-weight="normal" font-family="Liberation Sans, Arial, Helvetica, sans-serif" fill="#000"  >a</text>
<text transform="translate(263.00 1454.60) scale(0.98 1)" font-size="29" text-anchor="middle" font-weight="normal" font-family="Liberation Sans, Arial, Helvetica, sans-serif" fill="#000"  >b</text>
<text transform="translate(303.70 1277.50) scale(0.98 1)" font-size="29" text-anchor="middle" font-weight="normal" font-family="Liberation Sans, Arial, Helvetica, sans-serif" fill="#000"  >a</text>
<text transform="translate(310.00 1420.10) scale(0.98 1)" font-size="29" text-anchor="middle" font-weight="normal" font-family="Liberation Sans, Arial, Helvetica, sans-serif" fill="#000"  >b</text>
<text transform="translate(352.50 1229.10) scale(0.98 1)" font-size="29" text-anchor="middle" font-weight="normal" font-family="Liberation Sans, Arial, Helvetica, sans-serif" fill="#000"  >a</text>
<text transform="translate(352.20 1298.10) scale(0.98 1)" font-size="29" text-anchor="middle" font-weight="normal" font-family="Liberation Sans, Arial, Helvetica, sans-serif" fill="#000"  >b</text>
<text transform="translate(354.00 1387.60) scale(0.98 1)" font-size="29" text-anchor="middle" font-weight="normal" font-family="Liberation Sans, Arial, Helvetica, sans-serif" fill="#000"  >c</text>
<text transform="translate(442.00 1192.60) scale(0.98 1)" font-size="29" text-anchor="middle" font-weight="normal" font-family="Liberation Sans, Arial, Helvetica, sans-serif" fill="#000"  >a</text>
<text transform="translate(447.20 1267.20) scale(0.98 1)" font-size="29" text-anchor="middle" font-weight="normal" font-family="Liberation Sans, Arial, Helvetica, sans-serif" fill="#000"  >b</text>
<text transform="translate(447.20 1365.00) scale(0.98 1)" font-size="29" text-anchor="middle" font-weight="normal" font-family="Liberation Sans, Arial, Helvetica, sans-serif" fill="#000"  >c</text>
<text transform="translate(538.00 1150.20) scale(0.98 1)" font-size="29" text-anchor="middle" font-weight="normal" font-family="Liberation Sans, Arial, Helvetica, sans-serif" fill="#000"  >a</text>
<text transform="translate(540.30 1210.60) scale(0.98 1)" font-size="29" text-anchor="middle" font-weight="normal" font-family="Liberation Sans, Arial, Helvetica, sans-serif" fill="#000"  >b</text>
<text transform="translate(538.50 1292.90) scale(0.98 1)" font-size="29" text-anchor="middle" font-weight="normal" font-family="Liberation Sans, Arial, Helvetica, sans-serif" fill="#000"  >c</text>
<line x1="212.00" y1="1592.70" x2="258.60" y2="1898.70" stroke="#000" stroke-width="2.2" stroke-linecap="round" stroke-dasharray="18.61 9.81" stroke-dashoffset="-1.11"/>
<line x1="258.60" y1="1898.70" x2="304.20" y2="1980.50" stroke="#000" stroke-width="2.2" stroke-linecap="round" stroke-dasharray="21.07 11.11" stroke-dashoffset="27.36"/>
<line x1="304.20" y1="1980.50" x2="350.60" y2="1980.90" stroke="#000" stroke-width="2.2" stroke-linecap="round" stroke-dasharray="18.40 9.70" stroke-dashoffset="21.40"/>
<line x1="350.60" y1="1980.90" x2="443.30" y2="2048.50" stroke="#000" stroke-width="2.2" stroke-linecap="round" stroke-dasharray="22.77 12.01" stroke-dashoffset="14.36"/>
<line x1="443.30" y1="2048.50" x2="535.50" y2="2119.80" stroke="#000" stroke-width="2.2" stroke-linecap="round" stroke-dasharray="23.26 12.26" stroke-dashoffset="25.28"/>
<line x1="535.50" y1="2119.80" x2="816.80" y2="2201.40" stroke="#000" stroke-width="2.2" stroke-linecap="round" stroke-dasharray="19.16 10.10" stroke-dashoffset="-0.21"/>
<line x1="816.80" y1="2201.40" x2="1140.50" y2="2210.80" stroke="#000" stroke-width="2.2" stroke-linecap="round" stroke-dasharray="18.41 9.70" stroke-dashoffset="0.10"/>
<line x1="212.00" y1="1563.50" x2="258.60" y2="1964.60" stroke="#000" stroke-width="2.2" stroke-linecap="round" stroke-dasharray="28.39 13.19" stroke-dashoffset="-1.11"/>
<line x1="258.60" y1="1964.60" x2="304.60" y2="2061.70" stroke="#000" stroke-width="2.2" stroke-linecap="round" stroke-dasharray="31.20 14.50" stroke-dashoffset="31.32"/>
<line x1="304.60" y1="2061.70" x2="350.60" y2="2097.30" stroke="#000" stroke-width="2.2" stroke-linecap="round" stroke-dasharray="35.66 16.56" stroke-dashoffset="1.90"/>
<line x1="350.60" y1="2097.30" x2="443.30" y2="2154.20" stroke="#000" stroke-width="2.2" stroke-linecap="round" stroke-dasharray="33.09 15.37" stroke-dashoffset="7.27"/>
<line x1="443.30" y1="2154.20" x2="535.50" y2="2191.30" stroke="#000" stroke-width="2.2" stroke-linecap="round" stroke-dasharray="30.40 14.12" stroke-dashoffset="17.57"/>
<line x1="535.50" y1="2191.30" x2="816.80" y2="2213.60" stroke="#000" stroke-width="2.2" stroke-linecap="round" stroke-dasharray="28.29 13.14" stroke-dashoffset="34.01"/>
<line x1="816.80" y1="2213.60" x2="1140.50" y2="2226.50" stroke="#000" stroke-width="2.2" stroke-linecap="round" stroke-dasharray="28.22 13.11" stroke-dashoffset="28.12"/>
<line x1="212.00" y1="1566.50" x2="258.60" y2="1750.60" stroke="#000" stroke-width="2.2" />
<line x1="258.60" y1="1750.60" x2="304.20" y2="1702.10" stroke="#000" stroke-width="2.2" />
<line x1="304.20" y1="1702.10" x2="350.60" y2="1679.00" stroke="#000" stroke-width="2.2" />
<line x1="350.60" y1="1679.00" x2="443.30" y2="1820.40" stroke="#000" stroke-width="2.2" />
<line x1="443.30" y1="1820.40" x2="535.50" y2="2020.30" stroke="#000" stroke-width="2.2" />
<line x1="535.50" y1="2020.30" x2="816.80" y2="2186.70" stroke="#000" stroke-width="2.2" />
<line x1="816.80" y1="2186.70" x2="1140.50" y2="2210.30" stroke="#000" stroke-width="2.2" />
<line x1="212.00" y1="1581.50" x2="212.00" y2="1604.00" stroke="#000" stroke-width="2.2" />
<line x1="201.20" y1="1581.50" x2="222.80" y2="1581.50" stroke="#000" stroke-width="2.2" stroke-linecap="round"/>
<line x1="201.20" y1="1604.00" x2="222.80" y2="1604.00" stroke="#000" stroke-width="2.2" stroke-linecap="round"/>
<circle cx="212.00" cy="1592.70" r="8.6" fill="#c0c0c0" stroke="#000" stroke-width="2.1"/>
<line x1="258.60" y1="1892.20" x2="258.60" y2="1905.70" stroke="#000" stroke-width="2.2" />
<line x1="247.80" y1="1892.20" x2="269.40" y2="1892.20" stroke="#000" stroke-width="2.2" stroke-linecap="round"/>
<line x1="247.80" y1="1905.70" x2="269.40" y2="1905.70" stroke="#000" stroke-width="2.2" stroke-linecap="round"/>
<circle cx="258.60" cy="1898.70" r="8.6" fill="#c0c0c0" stroke="#000" stroke-width="2.1"/>
<line x1="304.20" y1="1976.20" x2="304.20" y2="1984.80" stroke="#000" stroke-width="2.2" />
<line x1="293.40" y1="1976.20" x2="315.00" y2="1976.20" stroke="#000" stroke-width="2.2" stroke-linecap="round"/>
<line x1="293.40" y1="1984.80" x2="315.00" y2="1984.80" stroke="#000" stroke-width="2.2" stroke-linecap="round"/>
<circle cx="304.20" cy="1980.50" r="8.6" fill="#c0c0c0" stroke="#000" stroke-width="2.1"/>
<line x1="350.60" y1="1976.60" x2="350.60" y2="1985.20" stroke="#000" stroke-width="2.2" />
<line x1="339.80" y1="1976.60" x2="361.40" y2="1976.60" stroke="#000" stroke-width="2.2" stroke-linecap="round"/>
<line x1="339.80" y1="1985.20" x2="361.40" y2="1985.20" stroke="#000" stroke-width="2.2" stroke-linecap="round"/>
<circle cx="350.60" cy="1980.90" r="8.6" fill="#c0c0c0" stroke="#000" stroke-width="2.1"/>
<line x1="443.30" y1="2044.50" x2="443.30" y2="2052.50" stroke="#000" stroke-width="2.2" />
<line x1="432.50" y1="2044.50" x2="454.10" y2="2044.50" stroke="#000" stroke-width="2.2" stroke-linecap="round"/>
<line x1="432.50" y1="2052.50" x2="454.10" y2="2052.50" stroke="#000" stroke-width="2.2" stroke-linecap="round"/>
<circle cx="443.30" cy="2048.50" r="8.6" fill="#c0c0c0" stroke="#000" stroke-width="2.1"/>
<line x1="535.50" y1="2116.30" x2="535.50" y2="2123.30" stroke="#000" stroke-width="2.2" />
<line x1="524.70" y1="2116.30" x2="546.30" y2="2116.30" stroke="#000" stroke-width="2.2" stroke-linecap="round"/>
<line x1="524.70" y1="2123.30" x2="546.30" y2="2123.30" stroke="#000" stroke-width="2.2" stroke-linecap="round"/>
<circle cx="535.50" cy="2119.80" r="8.6" fill="#c0c0c0" stroke="#000" stroke-width="2.1"/>
<line x1="816.80" y1="2197.90" x2="816.80" y2="2204.90" stroke="#000" stroke-width="2.2" />
<line x1="806.00" y1="2197.90" x2="827.60" y2="2197.90" stroke="#000" stroke-width="2.2" stroke-linecap="round"/>
<line x1="806.00" y1="2204.90" x2="827.60" y2="2204.90" stroke="#000" stroke-width="2.2" stroke-linecap="round"/>
<circle cx="816.80" cy="2201.40" r="8.6" fill="#c0c0c0" stroke="#000" stroke-width="2.1"/>
<line x1="1140.50" y1="2207.80" x2="1140.50" y2="2213.80" stroke="#000" stroke-width="2.2" />
<line x1="1129.70" y1="2207.80" x2="1151.30" y2="2207.80" stroke="#000" stroke-width="2.2" stroke-linecap="round"/>
<line x1="1129.70" y1="2213.80" x2="1151.30" y2="2213.80" stroke="#000" stroke-width="2.2" stroke-linecap="round"/>
<circle cx="1140.50" cy="2210.80" r="8.6" fill="#c0c0c0" stroke="#000" stroke-width="2.1"/>
<line x1="212.00" y1="1549.30" x2="212.00" y2="1577.70" stroke="#000" stroke-width="2.2" />
<line x1="201.20" y1="1549.30" x2="222.80" y2="1549.30" stroke="#000" stroke-width="2.2" stroke-linecap="round"/>
<line x1="201.20" y1="1577.70" x2="222.80" y2="1577.70" stroke="#000" stroke-width="2.2" stroke-linecap="round"/>
<path d="M202.70 1558.05L221.30 1558.05L212.00 1572.85Z" fill="#fff" stroke="#000" stroke-width="2.1" stroke-linejoin="round"/>
<line x1="258.60" y1="1958.40" x2="258.60" y2="1970.90" stroke="#000" stroke-width="2.2" />
<line x1="247.80" y1="1958.40" x2="269.40" y2="1958.40" stroke="#000" stroke-width="2.2" stroke-linecap="round"/>
<line x1="247.80" y1="1970.90" x2="269.40" y2="1970.90" stroke="#000" stroke-width="2.2" stroke-linecap="round"/>
<path d="M249.30 1959.15L267.90 1959.15L258.60 1973.95Z" fill="#fff" stroke="#000" stroke-width="2.1" stroke-linejoin="round"/>
<line x1="304.60" y1="2056.70" x2="304.60" y2="2066.70" stroke="#000" stroke-width="2.2" />
<line x1="293.80" y1="2056.70" x2="315.40" y2="2056.70" stroke="#000" stroke-width="2.2" stroke-linecap="round"/>
<line x1="293.80" y1="2066.70" x2="315.40" y2="2066.70" stroke="#000" stroke-width="2.2" stroke-linecap="round"/>
<path d="M295.30 2056.25L313.90 2056.25L304.60 2071.05Z" fill="#fff" stroke="#000" stroke-width="2.1" stroke-linejoin="round"/>
<line x1="350.60" y1="2093.30" x2="350.60" y2="2101.30" stroke="#000" stroke-width="2.2" />
<line x1="339.80" y1="2093.30" x2="361.40" y2="2093.30" stroke="#000" stroke-width="2.2" stroke-linecap="round"/>
<line x1="339.80" y1="2101.30" x2="361.40" y2="2101.30" stroke="#000" stroke-width="2.2" stroke-linecap="round"/>
<path d="M341.30 2091.85L359.90 2091.85L350.60 2106.65Z" fill="#fff" stroke="#000" stroke-width="2.1" stroke-linejoin="round"/>
<line x1="443.30" y1="2150.70" x2="443.30" y2="2157.70" stroke="#000" stroke-width="2.2" />
<line x1="432.50" y1="2150.70" x2="454.10" y2="2150.70" stroke="#000" stroke-width="2.2" stroke-linecap="round"/>
<line x1="432.50" y1="2157.70" x2="454.10" y2="2157.70" stroke="#000" stroke-width="2.2" stroke-linecap="round"/>
<path d="M434.00 2148.75L452.60 2148.75L443.30 2163.55Z" fill="#fff" stroke="#000" stroke-width="2.1" stroke-linejoin="round"/>
<line x1="535.50" y1="2188.30" x2="535.50" y2="2194.30" stroke="#000" stroke-width="2.2" />
<line x1="524.70" y1="2188.30" x2="546.30" y2="2188.30" stroke="#000" stroke-width="2.2" stroke-linecap="round"/>
<line x1="524.70" y1="2194.30" x2="546.30" y2="2194.30" stroke="#000" stroke-width="2.2" stroke-linecap="round"/>
<path d="M526.20 2185.85L544.80 2185.85L535.50 2200.65Z" fill="#fff" stroke="#000" stroke-width="2.1" stroke-linejoin="round"/>
<line x1="816.80" y1="2210.10" x2="816.80" y2="2217.10" stroke="#000" stroke-width="2.2" />
<line x1="806.00" y1="2210.10" x2="827.60" y2="2210.10" stroke="#000" stroke-width="2.2" stroke-linecap="round"/>
<line x1="806.00" y1="2217.10" x2="827.60" y2="2217.10" stroke="#000" stroke-width="2.2" stroke-linecap="round"/>
<path d="M807.50 2208.15L826.10 2208.15L816.80 2222.95Z" fill="#fff" stroke="#000" stroke-width="2.1" stroke-linejoin="round"/>
<line x1="1140.50" y1="2223.50" x2="1140.50" y2="2229.50" stroke="#000" stroke-width="2.2" />
<line x1="1129.70" y1="2223.50" x2="1151.30" y2="2223.50" stroke="#000" stroke-width="2.2" stroke-linecap="round"/>
<line x1="1129.70" y1="2229.50" x2="1151.30" y2="2229.50" stroke="#000" stroke-width="2.2" stroke-linecap="round"/>
<path d="M1131.20 2221.05L1149.80 2221.05L1140.50 2235.85Z" fill="#fff" stroke="#000" stroke-width="2.1" stroke-linejoin="round"/>
<line x1="212.00" y1="1556.00" x2="212.00" y2="1573.00" stroke="#000" stroke-width="2.2" />
<line x1="201.20" y1="1556.00" x2="222.80" y2="1556.00" stroke="#000" stroke-width="2.2" stroke-linecap="round"/>
<line x1="201.20" y1="1573.00" x2="222.80" y2="1573.00" stroke="#000" stroke-width="2.2" stroke-linecap="round"/>
<circle cx="212.00" cy="1566.50" r="8.6" fill="#000" stroke="#000" stroke-width="2.1"/>
<line x1="258.60" y1="1744.90" x2="258.60" y2="1757.00" stroke="#000" stroke-width="2.2" />
<line x1="247.80" y1="1744.90" x2="269.40" y2="1744.90" stroke="#000" stroke-width="2.2" stroke-linecap="round"/>
<line x1="247.80" y1="1757.00" x2="269.40" y2="1757.00" stroke="#000" stroke-width="2.2" stroke-linecap="round"/>
<circle cx="258.60" cy="1750.60" r="8.6" fill="#000" stroke="#000" stroke-width="2.1"/>
<line x1="304.20" y1="1695.50" x2="304.20" y2="1708.70" stroke="#000" stroke-width="2.2" />
<line x1="293.40" y1="1695.50" x2="315.00" y2="1695.50" stroke="#000" stroke-width="2.2" stroke-linecap="round"/>
<line x1="293.40" y1="1708.70" x2="315.00" y2="1708.70" stroke="#000" stroke-width="2.2" stroke-linecap="round"/>
<circle cx="304.20" cy="1702.10" r="8.6" fill="#000" stroke="#000" stroke-width="2.1"/>
<line x1="350.60" y1="1672.40" x2="350.60" y2="1685.60" stroke="#000" stroke-width="2.2" />
<line x1="339.80" y1="1672.40" x2="361.40" y2="1672.40" stroke="#000" stroke-width="2.2" stroke-linecap="round"/>
<line x1="339.80" y1="1685.60" x2="361.40" y2="1685.60" stroke="#000" stroke-width="2.2" stroke-linecap="round"/>
<circle cx="350.60" cy="1679.00" r="8.6" fill="#000" stroke="#000" stroke-width="2.1"/>
<line x1="443.30" y1="1812.50" x2="443.30" y2="1828.70" stroke="#000" stroke-width="2.2" />
<line x1="432.50" y1="1812.50" x2="454.10" y2="1812.50" stroke="#000" stroke-width="2.2" stroke-linecap="round"/>
<line x1="432.50" y1="1828.70" x2="454.10" y2="1828.70" stroke="#000" stroke-width="2.2" stroke-linecap="round"/>
<circle cx="443.30" cy="1820.40" r="8.6" fill="#000" stroke="#000" stroke-width="2.1"/>
<line x1="535.50" y1="2012.20" x2="535.50" y2="2027.60" stroke="#000" stroke-width="2.2" />
<line x1="524.70" y1="2012.20" x2="546.30" y2="2012.20" stroke="#000" stroke-width="2.2" stroke-linecap="round"/>
<line x1="524.70" y1="2027.60" x2="546.30" y2="2027.60" stroke="#000" stroke-width="2.2" stroke-linecap="round"/>
<circle cx="535.50" cy="2020.30" r="8.6" fill="#000" stroke="#000" stroke-width="2.1"/>
<line x1="816.80" y1="2181.70" x2="816.80" y2="2191.70" stroke="#000" stroke-width="2.2" />
<line x1="806.00" y1="2181.70" x2="827.60" y2="2181.70" stroke="#000" stroke-width="2.2" stroke-linecap="round"/>
<line x1="806.00" y1="2191.70" x2="827.60" y2="2191.70" stroke="#000" stroke-width="2.2" stroke-linecap="round"/>
<circle cx="816.80" cy="2186.70" r="8.6" fill="#000" stroke="#000" stroke-width="2.1"/>
<line x1="1140.50" y1="2207.30" x2="1140.50" y2="2213.30" stroke="#000" stroke-width="2.2" />
<line x1="1129.70" y1="2207.30" x2="1151.30" y2="2207.30" stroke="#000" stroke-width="2.2" stroke-linecap="round"/>
<line x1="1129.70" y1="2213.30" x2="1151.30" y2="2213.30" stroke="#000" stroke-width="2.2" stroke-linecap="round"/>
<circle cx="1140.50" cy="2210.30" r="8.6" fill="#000" stroke="#000" stroke-width="2.1"/>
<text transform="translate(262.00 1713.50) scale(0.98 1)" font-size="29" text-anchor="middle" font-weight="normal" font-family="Liberation Sans, Arial, Helvetica, sans-serif" fill="#000"  >a</text>
<text transform="translate(299.40 1677.60) scale(0.98 1)" font-size="29" text-anchor="middle" font-weight="normal" font-family="Liberation Sans, Arial, Helvetica, sans-serif" fill="#000"  >a</text>
<text transform="translate(353.10 1651.80) scale(0.98 1)" font-size="29" text-anchor="middle" font-weight="normal" font-family="Liberation Sans, Arial, Helvetica, sans-serif" fill="#000"  >a</text>
<text transform="translate(442.40 1785.70) scale(0.98 1)" font-size="29" text-anchor="middle" font-weight="normal" font-family="Liberation Sans, Arial, Helvetica, sans-serif" fill="#000"  >a</text>
<text transform="translate(536.00 1991.50) scale(0.98 1)" font-size="29" text-anchor="middle" font-weight="normal" font-family="Liberation Sans, Arial, Helvetica, sans-serif" fill="#000"  >a</text>
<text transform="translate(265.50 1873.90) scale(0.98 1)" font-size="29" text-anchor="middle" font-weight="normal" font-family="Liberation Sans, Arial, Helvetica, sans-serif" fill="#000"  >b</text>
<text transform="translate(311.00 1960.60) scale(0.98 1)" font-size="29" text-anchor="middle" font-weight="normal" font-family="Liberation Sans, Arial, Helvetica, sans-serif" fill="#000"  >b</text>
<text transform="translate(348.60 1960.60) scale(0.98 1)" font-size="29" text-anchor="middle" font-weight="normal" font-family="Liberation Sans, Arial, Helvetica, sans-serif" fill="#000"  >b</text>
<text transform="translate(449.20 2020.40) scale(0.98 1)" font-size="29" text-anchor="middle" font-weight="normal" font-family="Liberation Sans, Arial, Helvetica, sans-serif" fill="#000"  >b</text>
<text transform="translate(536.70 2099.20) scale(0.98 1)" font-size="29" text-anchor="middle" font-weight="normal" font-family="Liberation Sans, Arial, Helvetica, sans-serif" fill="#000"  >b</text>
<text transform="translate(257.20 2010.70) scale(0.98 1)" font-size="29" text-anchor="middle" font-weight="normal" font-family="Liberation Sans, Arial, Helvetica, sans-serif" fill="#000"  >c</text>
<text transform="translate(309.60 2040.30) scale(0.98 1)" font-size="29" text-anchor="middle" font-weight="normal" font-family="Liberation Sans, Arial, Helvetica, sans-serif" fill="#000"  >c</text>
<text transform="translate(361.00 2076.90) scale(0.98 1)" font-size="29" text-anchor="middle" font-weight="normal" font-family="Liberation Sans, Arial, Helvetica, sans-serif" fill="#000"  >c</text>
<text transform="translate(444.40 2132.00) scale(0.98 1)" font-size="29" text-anchor="middle" font-weight="normal" font-family="Liberation Sans, Arial, Helvetica, sans-serif" fill="#000"  >c</text>
<text transform="translate(1144.10 2177.10) scale(0.98 1)" font-size="29" text-anchor="middle" font-weight="normal" font-family="Liberation Sans, Arial, Helvetica, sans-serif" fill="#000"  >a</text>
<text transform="translate(1178.60 2208.70) scale(0.98 1)" font-size="29" text-anchor="middle" font-weight="normal" font-family="Liberation Sans, Arial, Helvetica, sans-serif" fill="#000"  >ab</text>
<text transform="translate(1166.70 2253.10) scale(0.98 1)" font-size="29" text-anchor="middle" font-weight="normal" font-family="Liberation Sans, Arial, Helvetica, sans-serif" fill="#000"  >b</text>
</svg>
</body></html>
